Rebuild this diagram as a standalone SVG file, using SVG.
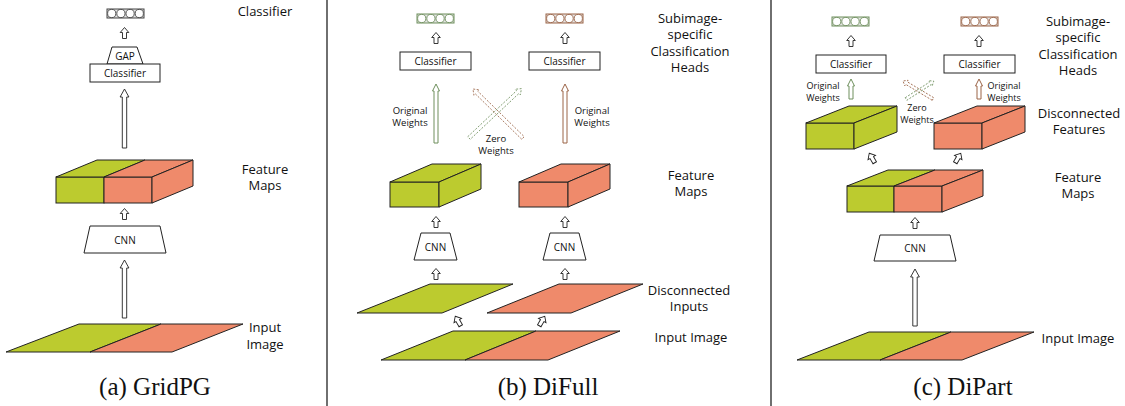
<svg xmlns="http://www.w3.org/2000/svg" xmlns:xlink="http://www.w3.org/1999/xlink" width="1125" height="406" viewBox="0 0 1125 406">
<style>
.t{font-family:"Open Sans","Noto Sans",sans-serif;font-size:13px;text-anchor:middle;fill:#111}
.bx{font-size:10px}
.sm{font-size:9.5px}
.xs{font-size:9px}
.cap{font-family:"Liberation Serif",serif;font-size:25px;text-anchor:middle;fill:#111}
.g{fill:#bccb2f;stroke:#222;stroke-width:1}
.o{fill:#ef8a6b;stroke:#222;stroke-width:1}
.w{fill:#fff;stroke:#222;stroke-width:1}
.ar{fill:#fff;stroke:#222;stroke-width:0.9}
.arg{fill:#fff;stroke:#6e8f5c;stroke-width:1}
.arb{fill:#fff;stroke:#9b6447;stroke-width:1}
.dg{fill:none;stroke:#6e8f5c;stroke-width:0.8;stroke-dasharray:2 1.5}
.db{fill:none;stroke:#9b6447;stroke-width:0.8;stroke-dasharray:2 1.5}
.cb{fill:#e4e4e4;stroke-width:1}
.cc{fill:#fff;stroke-width:0.9}
.div{stroke:#222;stroke-width:1.3}
</style>
<defs>
<path id="sa" d="M0,-5.5 L4.3,-0.5 L2,-0.5 L2,5.5 L-2,5.5 L-2,-0.5 L-4.3,-0.5 Z"/>
<g id="circ">
<rect class="cb" x="0" y="0" width="37" height="9"/>
<circle class="cc" cx="4.7" cy="4.5" r="4.1"/>
<circle class="cc" cx="13.9" cy="4.5" r="4.1"/>
<circle class="cc" cx="23.1" cy="4.5" r="4.1"/>
<circle class="cc" cx="32.3" cy="4.5" r="4.1"/>
</g>
</defs>
<rect x="0" y="0" width="1125" height="406" fill="#fff"/>
<line class="div" x1="327" y1="0" x2="327" y2="406"/>
<line class="div" x1="771" y1="0" x2="771" y2="406"/>

<!-- Panel (a) -->
<g id="a-out" stroke="#444"><use xlink:href="#circ" x="107" y="9"/></g>
<g id="a-gap"><path class="w" d="M112,47 L137,47 L143,64 L107,64 Z"/><text class="t bx" x="125" y="60">GAP</text></g>
<g id="a-cls"><rect class="w" x="90" y="64" width="70" height="18"/><text class="t bx" x="125" y="77">Classifier</text></g>
<g id="a-feat">
<rect class="g" x="56" y="177" width="48" height="26"/>
<rect class="o" x="104" y="177" width="48" height="26"/>
<path class="g" d="M56,177 L104,177 L145,160 L97,160 Z"/>
<path class="o" d="M104,177 L152,177 L193,160 L145,160 Z"/>
<path class="o" d="M152,177 L193,160 L193,186 L152,203 Z"/>
</g>
<g id="a-cnn"><path class="w" d="M90,226 L160,226 L166,253 L84,253 Z"/><text class="t bx" x="125" y="244">CNN</text></g>
<g id="a-in">
<path class="g" d="M6,352 L90,352 L161,324 L79,324 Z"/>
<path class="o" d="M90,352 L172,352 L243,324 L161,324 Z"/>
</g>
<g id="a-labels">
<text class="t" x="265" y="16">Classifier</text>
<text class="t" x="265" y="174">Feature</text>
<text class="t" x="265" y="190">Maps</text>
<text class="t" x="265" y="332">Input</text>
<text class="t" x="265" y="349">Image</text>
<text class="cap" x="155" y="395">(a) GridPG</text>
</g>

<!-- Panel (b) -->
<g id="b-out1" stroke="#6e8f5c"><use xlink:href="#circ" x="417" y="14"/></g>
<g id="b-out2" stroke="#9b6447"><use xlink:href="#circ" x="546" y="14"/></g>
<g id="b-cls1"><rect class="w" x="400" y="52" width="71" height="18"/><text class="t bx" x="435.5" y="65">Classifier</text></g>
<g id="b-cls2"><rect class="w" x="529" y="52" width="71" height="18"/><text class="t bx" x="564.5" y="65">Classifier</text></g>
<g id="b-feat1">
<rect class="g" x="390" y="182" width="49" height="25"/>
<path class="g" d="M390,182 L439,182 L481,164 L432,164 Z"/>
<path class="g" d="M439,182 L481,164 L481,189 L439,207 Z"/>
</g>
<g id="b-feat2">
<rect class="o" x="519" y="182" width="49" height="25"/>
<path class="o" d="M519,182 L568,182 L610,164 L561,164 Z"/>
<path class="o" d="M568,182 L610,164 L610,189 L568,207 Z"/>
</g>
<g id="b-cnn1"><path class="w" d="M421,233 L450,233 L457,260 L414,260 Z"/><text class="t bx" x="435.5" y="251">CNN</text></g>
<g id="b-cnn2"><path class="w" d="M550,233 L579,233 L586,260 L543,260 Z"/><text class="t bx" x="564.5" y="251">CNN</text></g>
<g id="b-in1"><path class="g" d="M357,313 L442,313 L513,284 L430,284 Z"/></g>
<g id="b-in2"><path class="o" d="M487,313 L571,313 L643,284 L559,284 Z"/></g>
<g id="b-img">
<path class="g" d="M381,360 L465,360 L536,331 L453,331 Z"/>
<path class="o" d="M465,360 L548,360 L620,331 L536,331 Z"/>
</g>
<g id="b-labels">
<text class="t" x="690" y="23">Subimage-</text>
<text class="t" x="690" y="39">specific</text>
<text class="t" x="690" y="56">Classification</text>
<text class="t" x="690" y="72">Heads</text>
<text class="t" x="691" y="180">Feature</text>
<text class="t" x="691" y="196">Maps</text>
<text class="t" x="689" y="295">Disconnected</text>
<text class="t" x="689" y="311">Inputs</text>
<text class="t" x="691" y="342">Input Image</text>
<text class="t sm" x="410" y="114">Original</text>
<text class="t sm" x="410" y="126">Weights</text>
<text class="t sm" x="592" y="114">Original</text>
<text class="t sm" x="592" y="126">Weights</text>
<text class="t sm" x="496" y="142">Zero</text>
<text class="t sm" x="496" y="154">Weights</text>
<text class="cap" x="548" y="395">(b) DiFull</text>
</g>

<!-- Panel (c) -->
<g id="c-out1" stroke="#6e8f5c"><use xlink:href="#circ" x="832" y="17"/></g>
<g id="c-out2" stroke="#9b6447"><use xlink:href="#circ" x="961" y="17"/></g>
<g id="c-cls1"><rect class="w" x="816" y="55" width="70" height="18"/><text class="t bx" x="851" y="68">Classifier</text></g>
<g id="c-cls2"><rect class="w" x="944" y="55" width="71" height="18"/><text class="t bx" x="979.5" y="68">Classifier</text></g>
<g id="c-dis1">
<rect class="g" x="806" y="123" width="48" height="26"/>
<path class="g" d="M806,123 L854,123 L897,106 L849,106 Z"/>
<path class="g" d="M854,123 L897,106 L897,132 L854,149 Z"/>
</g>
<g id="c-dis2">
<rect class="o" x="934" y="123" width="48" height="26"/>
<path class="o" d="M934,123 L982,123 L1025,106 L977,106 Z"/>
<path class="o" d="M982,123 L1025,106 L1025,132 L982,149 Z"/>
</g>
<g id="c-feat">
<rect class="g" x="847" y="186" width="47" height="26"/>
<rect class="o" x="894" y="186" width="48" height="26"/>
<path class="g" d="M847,186 L894,186 L935,170 L888,170 Z"/>
<path class="o" d="M894,186 L942,186 L983,170 L935,170 Z"/>
<path class="o" d="M942,186 L983,170 L983,196 L942,212 Z"/>
</g>
<g id="c-cnn"><path class="w" d="M880,235 L950,235 L956,261 L874,261 Z"/><text class="t bx" x="915" y="252">CNN</text></g>
<g id="c-img">
<path class="g" d="M797,360 L880,360 L951,332 L869,332 Z"/>
<path class="o" d="M880,360 L962,360 L1034,332 L951,332 Z"/>
</g>
<g id="c-labels">
<text class="t" x="1078" y="26">Subimage-</text>
<text class="t" x="1078" y="42">specific</text>
<text class="t" x="1078" y="59">Classification</text>
<text class="t" x="1078" y="75">Heads</text>
<text class="t" x="1079" y="118">Disconnected</text>
<text class="t" x="1079" y="134">Features</text>
<text class="t" x="1078" y="182">Feature</text>
<text class="t" x="1078" y="198">Maps</text>
<text class="t" x="1078" y="343">Input Image</text>
<text class="t xs" x="823" y="89">Original</text>
<text class="t xs" x="823" y="100.5">Weights</text>
<text class="t xs" x="1004" y="89">Original</text>
<text class="t xs" x="1004" y="100.5">Weights</text>
<text class="t xs" x="917" y="111">Zero</text>
<text class="t xs" x="917" y="122.5">Weights</text>
<text class="cap" x="963" y="395">(c) DiPart</text>
</g>

<!-- Connectors -->
<g id="connectors">
<use xlink:href="#sa" class="ar" transform="translate(124.5,33)"/>
<path class="ar" d="M124.5,89 L128.9,97 L126.7,97 L126.7,148 L122.3,148 L122.3,97 L120.1,97 Z"/>
<use xlink:href="#sa" class="ar" transform="translate(124.5,214)"/>
<path class="ar" d="M124.5,260 L128.9,268 L126.7,268 L126.7,318 L122.3,318 L122.3,268 L120.1,268 Z"/>

<use xlink:href="#sa" class="ar" transform="translate(436,38)"/>
<use xlink:href="#sa" class="ar" transform="translate(565,38)"/>
<path class="arg" d="M436,84 L439.5,91 L438,91 L438,143 L434,143 L434,91 L432.5,91 Z"/>
<path class="arb" d="M565,84 L568.5,91 L567,91 L567,143 L563,143 L563,91 L561.5,91 Z"/>
<path class="db" transform="translate(523,138) rotate(224.4)" d="M0,-1.8 L65,-1.8 L65,-3.8 L70,0 L65,3.8 L65,1.8 L0,1.8 Z"/>
<path class="dg" transform="translate(469,138) rotate(-43.3)" d="M0,-1.8 L67,-1.8 L67,-3.8 L72,0 L67,3.8 L67,1.8 L0,1.8 Z"/>
<use xlink:href="#sa" class="ar" transform="translate(436,222)"/>
<use xlink:href="#sa" class="ar" transform="translate(565,222)"/>
<use xlink:href="#sa" class="ar" transform="translate(436,274)"/>
<use xlink:href="#sa" class="ar" transform="translate(565,274)"/>
<use xlink:href="#sa" class="ar" transform="translate(458,321) rotate(-30)"/>
<use xlink:href="#sa" class="ar" transform="translate(542,321) rotate(30)"/>

<use xlink:href="#sa" class="ar" transform="translate(851,41)"/>
<use xlink:href="#sa" class="ar" transform="translate(979,41)"/>
<path class="arg" d="M851,79 L854.5,86 L853,86 L853,99 L849,99 L849,86 L847.5,86 Z"/>
<path class="arb" d="M979,79 L982.5,86 L981,86 L981,99 L977,99 L977,86 L975.5,86 Z"/>
<path class="db" transform="translate(933,99) rotate(211)" d="M0,-1.5 L31,-1.5 L31,-3.2 L35,0 L31,3.2 L31,1.5 L0,1.5 Z"/>
<path class="dg" transform="translate(906,99) rotate(-32.7)" d="M0,-1.5 L29,-1.5 L29,-3.2 L33,0 L29,3.2 L29,1.5 L0,1.5 Z"/>
<use xlink:href="#sa" class="ar" transform="translate(872,158) rotate(-30)"/>
<use xlink:href="#sa" class="ar" transform="translate(958,158) rotate(30)"/>
<use xlink:href="#sa" class="ar" transform="translate(915,223)"/>
<path class="ar" d="M915,269 L919.4,277 L917.2,277 L917.2,326 L912.8,326 L912.8,277 L910.6,277 Z"/>
</g>
</svg>
